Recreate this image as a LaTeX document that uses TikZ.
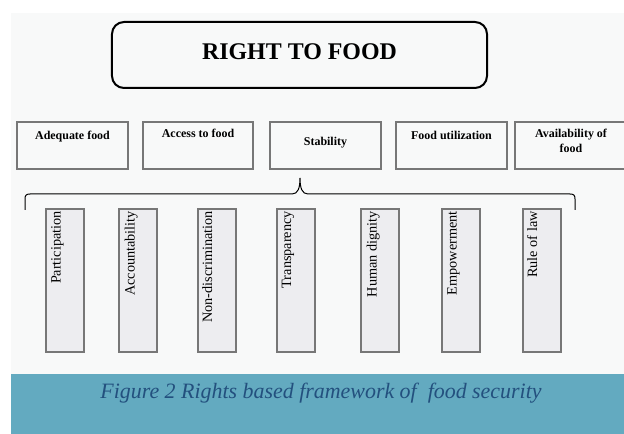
\documentclass[tikz,border=0pt]{standalone}
\usepackage{fontspec}
\setmainfont{Liberation Serif}
\usepackage{pgf, tikz}
\usetikzlibrary{calc}

\definecolor{panelgrey}{HTML}{F8F9F9}
\definecolor{boxline}{HTML}{777777}
\definecolor{boxfill}{HTML}{EDEDF0}
\definecolor{bandteal}{HTML}{63AAC0}
\definecolor{captionblue}{HTML}{23507E}

\begin{document}
\begin{tikzpicture}[x=1bp, y=-1bp,
    titlebox/.style={draw=black, line width=2bp, rounded corners=12bp, fill=panelgrey, minimum width=375bp, minimum height=66bp, outer sep=0pt, font=\bfseries\fontsize{24}{28}\selectfont, text depth=6bp},
    rowbox/.style={draw=boxline, line width=2bp, fill=panelgrey, minimum width=111bp, minimum height=47bp, outer sep=0pt, inner sep=0pt},
    rowlabel/.style={anchor=north, inner sep=0pt, align=center, font=\bfseries\fontsize{12}{15}\selectfont},
    vbox/.style={draw=boxline, line width=2bp, fill=boxfill, minimum width=38bp, minimum height=143bp, outer sep=0pt, inner sep=0pt},
    vlabel/.style={rotate=90, anchor=base east, inner sep=0pt, font=\fontsize{14.3}{17}\selectfont}]
    \useasboundingbox (0,0) rectangle (624,434);
    \clip (0,0) rectangle (624,434);
    \fill[white] (0,0) rectangle (624,434);
    \fill[panelgrey] (11,13) rectangle (624,374);
    \fill[bandteal] (11,374) rectangle (624,434);

    \node[titlebox] (title) at (299.5,55) {RIGHT TO FOOD};

    % the five dimensions
    \node[rowbox] (adequate) at (72.5,145.5) {};
    \node[rowbox, minimum width=110bp] (access) at (198,145.5) {};
    \node[rowbox] (stability) at (325.5,145.5) {};
    \node[rowbox] (utilization) at (451.5,145.5) {};
    \node[rowbox, minimum width=112bp] (availability) at (571,145.5) {};
    \node[rowlabel, yshift=-9bp] at (adequate.north) {Adequate food};
    \node[rowlabel, yshift=-7bp] at (access.north) {Access to food};
    \node[rowlabel, yshift=-15.5bp] at (stability.north) {Stability};
    \node[rowlabel, yshift=-9bp] at (utilization.north) {Food utilization};
    \node[rowlabel, yshift=-7bp] at (availability.north) {Availability of\\food};

    % brace
    \coordinate (braceleft) at (25,210);
    \coordinate (bracetip) at (300,178);
    \coordinate (braceright) at (575,210);
    \draw[line width=1bp] (braceleft) -- (25,199) .. controls (25,195.5) and (26,194) .. (30,194)
        -- (292,194) .. controls (298,194) and (300,188) .. (bracetip)
        .. controls (300,188) and (302,194) .. (308,194) -- (570,194)
        .. controls (574,194) and (575,195.5) .. (575,199) -- (braceright);

    % the principles
    \node[vbox] (participation) at (65,280.5) {};
    \node[vbox] (accountability) at (138,280.5) {};
    \node[vbox] (nondiscrimination) at (216.5,280.5) {};
    \node[vbox] (transparency) at (295.5,280.5) {};
    \node[vbox] (dignity) at (380,280.5) {};
    \node[vbox] (empowerment) at (461,280.5) {};
    \node[vbox] (law) at (541.5,280.5) {};
    \node[vlabel] at ($(participation.north west)+(14.7,2)$) {Participation};
    \node[vlabel] at ($(accountability.north west)+(15.5,2)$) {Accountability};
    \node[vlabel] at ($(nondiscrimination.north west)+(14.7,2)$) {Non-discrimination};
    \node[vlabel] at ($(transparency.north west)+(14.7,2)$) {Transparency};
    \node[vlabel] at ($(dignity.north west)+(15.5,2)$) {Human dignity};
    \node[vlabel] at ($(empowerment.north west)+(14.7,2)$) {Empowerment};
    \node[vlabel] at ($(law.north west)+(14.7,2)$) {Rule of law};

    \node[anchor=base, inner sep=0pt, text=captionblue, font=\itshape\fontsize{22}{26}\selectfont] (caption) at (321,398) {Figure 2 Rights based framework of\ \ food security};
\end{tikzpicture}
\end{document}
